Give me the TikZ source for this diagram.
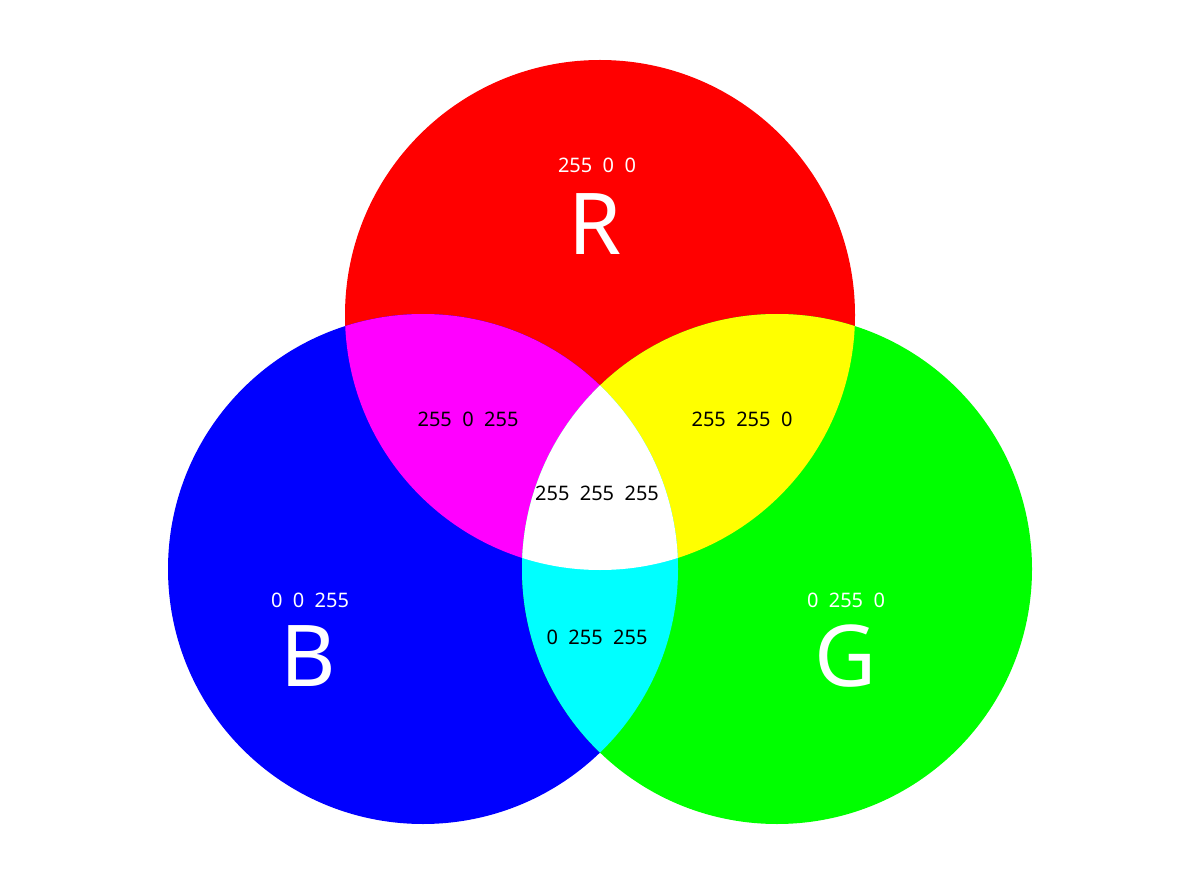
\documentclass[tikz,border=0pt]{standalone}
\usepackage{fontspec}
\setmainfont{Noto Sans}
\definecolor{pR}{RGB}{255,0,0}
\definecolor{pG}{RGB}{0,255,0}
\definecolor{pB}{RGB}{0,0,255}
\definecolor{pM}{RGB}{255,0,255}
\definecolor{pY}{RGB}{255,255,0}
\definecolor{pC}{RGB}{0,255,255}
\begin{document}
\begin{tikzpicture}[x=0.75pt,y=-0.75pt,
  small/.style={font=\fontsize{15}{18}\selectfont, inner sep=0pt},
  big/.style={font=\fontsize{64}{70}\selectfont, inner sep=0pt, text=white}]
\useasboundingbox[fill=white] (0,0) rectangle (1200,884);
\def\rad{191.25pt}
\coordinate (cR) at (600,315);
\coordinate (cB) at (423,569);
\coordinate (cG) at (777,569);
\fill[pR] (cR) circle[radius=\rad];
\fill[pB] (cB) circle[radius=\rad];
\fill[pG] (cG) circle[radius=\rad];
\begin{scope}
  \clip (cR) circle[radius=\rad];
  \fill[pM] (cB) circle[radius=\rad];
  \fill[pY] (cG) circle[radius=\rad];
\end{scope}
\begin{scope}
  \clip (cB) circle[radius=\rad];
  \fill[pC] (cG) circle[radius=\rad];
\end{scope}
\begin{scope}
  \clip (cR) circle[radius=\rad];
  \clip (cB) circle[radius=\rad];
  \fill[white] (cG) circle[radius=\rad];
\end{scope}
\node[small,text=white] (tR) at (597,165) {255\ \ 0\ \ 0};
\node[big] (lR) at (595,224) {R};
\node[small,text=white] (tB) at (310,600) {0\ \ 0\ \ 255};
\node[big] (lB) at (308,656) {B};
\node[small,text=white] (tG) at (846,600) {0\ \ 255\ \ 0};
\node[big] (lG) at (846,656) {G};
\node[small] (tM) at (468,419) {255\ \ 0\ \ 255};
\node[small] (tY) at (742,419) {255\ \ 255\ \ 0};
\node[small] (tW) at (597,493) {255\ \ 255\ \ 255};
\node[small] (tC) at (597,637) {0\ \ 255\ \ 255};
\end{tikzpicture}
\end{document}
